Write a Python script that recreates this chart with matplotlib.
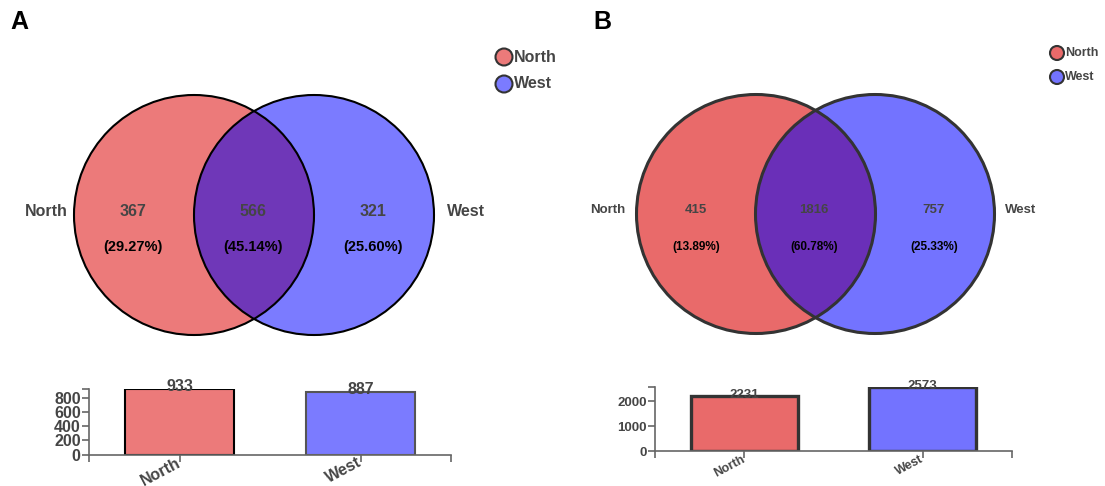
import matplotlib
matplotlib.use("Agg")
import matplotlib.pyplot as plt
import matplotlib.transforms as mtransforms
from matplotlib.patches import Circle

plt.rcParams['font.family'] = ['Liberation Sans', 'DejaVu Sans']
plt.rcParams['font.weight'] = 'bold'

# Set names and region counts
sets = ["North", "West"]
counts_a = [367, 566, 321]      # North only, both, West only
pcts_a = ["29.27%", "45.14%", "25.60%"]
totals_a = [933, 887]
counts_b = [415, 1816, 757]
pcts_b = ["13.89%", "60.78%", "25.33%"]
totals_b = [2231, 2573]

W, H = 1105, 486
fig = plt.figure(figsize=(W / 100, H / 100), dpi=100)
canvas = fig.add_axes([0, 0, 1, 1])
canvas.set_xlim(0, W)
canvas.set_ylim(H, 0)
canvas.axis('off')

GREY = '#454545'


def venn(cx1, cx2, cy, r, red, blue, purple, edge, lw, counts, pcts,
         num_fs, pct_fs, lab_fs, lab_x, num_x, pct_y):
    c1 = Circle((cx1, cy), r, facecolor=red, edgecolor='none', zorder=1)
    c2 = Circle((cx2, cy), r, facecolor=blue, edgecolor='none', zorder=1)
    canvas.add_patch(c1)
    canvas.add_patch(c2)
    inter = Circle((cx2, cy), r, facecolor=purple, edgecolor='none', zorder=2)
    canvas.add_patch(inter)
    inter.set_clip_path(c1)
    for cx in (cx1, cx2):
        canvas.add_patch(Circle((cx, cy), r, facecolor='none', edgecolor=edge,
                                lw=lw, zorder=3))
    canvas.text(lab_x[0], cy - 4, sets[0], ha='right', va='center',
                fontsize=lab_fs, color=GREY, fontweight='bold')
    canvas.text(lab_x[1], cy - 4, sets[1], ha='left', va='center',
                fontsize=lab_fs, color=GREY, fontweight='bold')
    for x, n, p in zip(num_x, counts, pcts):
        canvas.text(x, cy - 4, str(n), ha='center', va='center',
                    fontsize=num_fs, color=GREY, fontweight='bold', zorder=4)
        canvas.text(x, pct_y, f"({p})", ha='center', va='center',
                    fontsize=pct_fs, color='black', fontweight='bold', zorder=4)


def legend(x, ys, colors, r, fs, edge):
    for y, col, name in zip(ys, colors, sets):
        canvas.add_patch(Circle((x, y), r, facecolor=col, edgecolor=edge,
                                lw=1.5, zorder=3))
        canvas.text(x + r + 1, y, name, ha='left', va='center',
                    fontsize=fs, color=GREY, fontweight='bold')


def bars(left, right, bottom, top, totals, colors, edges, lw, fs, xfs, val_fs, yticks):
    ax = fig.add_axes([left / W, (H - bottom) / H, (right - left) / W,
                       (bottom - top) / H])
    xs = list(range(len(totals)))
    for x, v, c, e in zip(xs, totals, colors, edges):
        ax.bar(x, v, width=0.6, color=c, edgecolor=e, lw=lw, zorder=2)
        ax.annotate(str(v), (x, v), xytext=(0, -1.5), textcoords='offset points',
                    ha='center', va='baseline', fontsize=val_fs, color=GREY,
                    fontweight='bold', zorder=3, annotation_clip=False)
    ax.set_xlim(-0.5, len(totals) - 0.5)
    ax.set_ylim(0, max(totals))
    ax.set_xticks(xs)
    ax.set_xticklabels(sets, rotation=28, ha='right', va='center',
                       rotation_mode='anchor', fontsize=xfs, color=GREY,
                       fontweight='bold')
    shift = mtransforms.ScaledTranslation(4 / 100, 4 / 100, fig.dpi_scale_trans)
    for lab in ax.get_xticklabels():
        lab.set_transform(lab.get_transform() + shift)
    ax.set_yticks(yticks)
    ax.set_yticklabels([str(t) for t in yticks], fontsize=fs, color=GREY,
                       fontweight='bold')
    ax.set_xticks([-0.5, len(totals) - 0.5], minor=True)
    ax.set_yticks([max(totals)], minor=True)
    ax.tick_params(which='both', length=5, width=1.2, color='#666666', pad=1)
    ax.tick_params(axis='x', pad=0)
    for s in ('top', 'right'):
        ax.spines[s].set_visible(False)
    for s in ('left', 'bottom'):
        ax.spines[s].set_color('#666666')
        ax.spines[s].set_linewidth(1.2)
    ax.patch.set_alpha(0)
    return ax


# Panel A
canvas.text(10, 22, "A", fontsize=18, fontweight='bold', ha='left', va='center')
venn(194, 314, 215, 120, '#ec7a7a', '#7b7bff', '#6f37b8', 'black', 1.5,
     counts_a, pcts_a, 11.5, 10.5, 11.5, (68, 447), (133, 253, 373), 247)
legend(504, (57, 84), ('#ec7a7a', '#7b7bff'), 8.5, 11.5, '#333333')
bars(89, 451, 454.5, 389, totals_a, ('#ec7a7a', '#7b7bff'), ('black', '#555555'),
     1.5, 11.5, 11.5, 11.5, [0, 200, 400, 600, 800])

# Panel B
canvas.text(593, 22, "B", fontsize=18, fontweight='bold', ha='left', va='center')
venn(756, 875, 214, 119.5, '#e96a6a', '#7373ff', '#6a2fb8', '#333333', 2.2,
     counts_b, pcts_b, 9.5, 8.5, 9.5, (625, 1005), (696, 814, 934), 247)
legend(1057, (53, 77), ('#e96a6a', '#7373ff'), 7, 9, '#333333')
bars(655, 1012, 451.3, 387, totals_b, ('#e96a6a', '#7373ff'), ('#333333', '#333333'),
     2.4, 9.5, 9, 9.5, [0, 1000, 2000])

fig.savefig("out.png", dpi=100)
